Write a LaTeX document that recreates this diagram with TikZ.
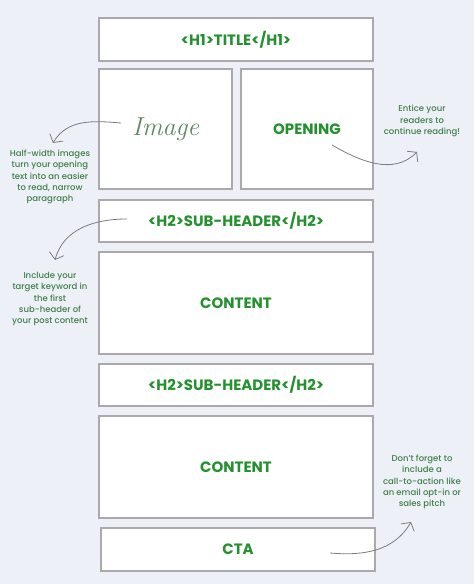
\documentclass[tikz,border=0pt]{standalone}
\usepackage{fontspec}
\setmainfont{Poppins}
\newfontfamily\notefont{Poppins Medium}
\usepackage{tikz}
\usetikzlibrary{arrows.meta}
\definecolor{bggray}{HTML}{EEF0F8}
\definecolor{boxgray}{HTML}{A9A9AE}
\definecolor{headgreen}{HTML}{24912F}
\definecolor{notegreen}{HTML}{3F8048}
\definecolor{arrowgray}{HTML}{7C7C80}
\definecolor{scriptgreen}{HTML}{5E8A62}
\tikzstyle{block}=[draw=boxgray,fill=white,line width=1.1pt,inner sep=0pt,text=headgreen,font=\bfseries\fontsize{15}{17}\selectfont]
\tikzstyle{wide}=[block,minimum width=274pt]
\tikzstyle{half}=[block,minimum width=133pt,minimum height=120pt]
\tikzstyle{note}=[align=center,inner sep=0pt,text=notegreen,font=\notefont\fontsize{8.5}{11.3}\selectfont]
\tikzstyle{hint}=[draw=arrowgray,line width=0.8pt,-{Straight Barb[length=6pt,width=15pt]}]

\begin{document}
\begin{tikzpicture}[x=1pt,y=1pt]
        \fill[bggray] (0,0) rectangle (474,584);
        \useasboundingbox (0,0) rectangle (474,584);
        % page blocks
        \node[wide,minimum height=43pt] (title) at (236,544.5) {<H1>TITLE</H1>};
        \node[half] (image) at (165.5,455) {\fontfamily{lmr}\mdseries\itshape\fontsize{26}{28}\selectfont\color{scriptgreen}Image};
        \node[half,minimum width=132pt] (opening) at (307,455) {OPENING};
        \node[wide,minimum height=42pt] (subone) at (236,363) {<H2>SUB-HEADER</H2>};
        \node[wide,minimum height=102pt] (contentone) at (236,281) {CONTENT};
        \node[wide,minimum height=42pt] (subtwo) at (236,199) {<H2>SUB-HEADER</H2>};
        \node[wide,minimum height=102pt] (contenttwo) at (236,117) {CONTENT};
        \node[wide,minimum height=43pt] (cta) at (238,34.5) {CTA};
        % side notes
        \node[note] (halfnote) at (50,407) {Half-width images\\turn your opening\\text into an easier\\to read, narrow\\paragraph};
        \node[note] (entice) at (422,463) {Entice your\\readers to\\continue reading!};
        \node[note] (keyword) at (50,285) {Include your\\target keyword in\\the first\\sub-header of\\your post content};
        \node[note] (forget) at (422,102) {Don’t forget to\\include a\\call-to-action like\\an email opt-in or\\sales pitch};
        % arrow ends
        \coordinate (imgtail) at (121,461);
        \coordinate (imgtip) at (53,441);
        \coordinate (opentail) at (332,439);
        \coordinate (opentip) at (417,432);
        \coordinate (subtail) at (127,365);
        \coordinate (subtip) at (55,324);
        \coordinate (ctatail) at (330,31);
        \coordinate (ctatip) at (411,62);
        \draw[hint] (imgtail) to[out=175,in=60] (imgtip);
        \draw[hint] (opentail) to[out=-30,in=225] (opentip);
        \draw[hint] (subtail) to[out=180,in=75] (subtip);
        \draw[hint] (ctatail) to[out=-5,in=240] (ctatip);
\end{tikzpicture}
\end{document}
